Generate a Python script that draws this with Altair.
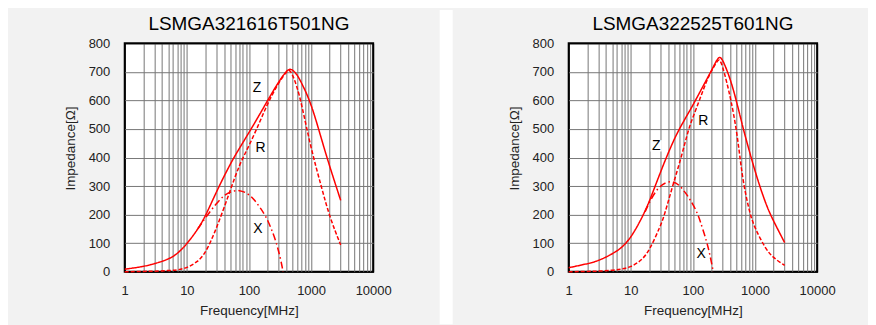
import altair as alt
import pandas as pd

# ---------------- data ----------------
titles = ["LSMGA321616T501NG", "LSMGA322525T601NG"]

# Panel 1
z1_f = [1, 2, 3, 5, 7, 10, 15, 20, 30, 50, 70, 100, 150, 200, 300, 400, 450, 500, 600, 700, 1000, 1500, 2000, 3000]
z1_v = [9, 18, 28, 43, 62, 97, 148, 195, 281, 378, 432, 487, 552, 600, 665, 703, 710, 708, 690, 662, 592, 458, 368, 250]
r1_f = [1, 2, 3, 5, 7, 10, 15, 20, 30, 50, 70, 100, 150, 200, 300, 400, 450, 500, 600, 700, 1000, 1500, 2000, 3000]
r1_v = [0, 1, 2, 4, 6, 13, 35, 65, 150, 285, 375, 440, 525, 590, 662, 700, 708, 692, 645, 590, 430, 290, 190, 94]
x1_f = [15, 20, 30, 40, 50, 70, 100, 122, 150, 189, 230, 273, 320, 355]
x1_v = [150, 190, 240, 268, 280, 288, 272, 252, 226, 193, 150, 106, 50, 0]

# Panel 2
z2_f = [1, 2, 3, 5, 7, 10, 15, 20, 30, 50, 70, 100, 130, 200, 240, 267, 300, 400, 500, 648, 700, 1000, 1500, 2000, 3000]
z2_v = [14, 28, 38, 62, 82, 118, 187, 246, 350, 467, 525, 583, 630, 705, 740, 754, 745, 676, 600, 500, 473, 350, 234, 176, 102]
r2_f = [1, 2, 3, 5, 7, 10, 15, 20, 30, 35, 47, 65, 85, 100, 130, 167, 200, 240, 267, 300, 350, 411, 500, 573, 648, 829, 1000, 1500, 2000, 3000]
r2_v = [0, 1, 2, 5, 9, 16, 40, 75, 160, 200, 300, 400, 500, 540, 606, 670, 705, 733, 748, 720, 665, 600, 502, 400, 310, 200, 152, 77, 48, 22]
x2_f = [17, 20, 29, 46, 60, 75, 89, 115, 130, 167, 190, 213]
x2_v = [210, 245, 305, 320, 305, 278, 255, 212, 180, 106, 55, 0]

# curve labels
lab_text = ["Z", "R", "X"]
lab1_f = [135.5, 153, 139]
lab1_v = [645, 432, 149]
lab2_f = [25.6, 147.5, 135.5]
lab2_v = [441, 529, 63]

x_ticks = [m * 10 ** e for e in range(4) for m in range(1, 10)] + [10000]
x_labels = [1, 10, 100, 1000, 10000]
y_ticks = list(range(0, 801, 100))

# ---------------- helpers ----------------
W, H = 249, 229
FONT = "Liberation Sans"
RED = "#ff0000"
GRID = "#767676"


def series_df(parts):
    rows = []
    for name, fs, vs in parts:
        for f, v in zip(fs, vs):
            rows.append({"f": f, "v": v, "s": name})
    return pd.DataFrame(rows)


x_scale = alt.Scale(type="log", domain=[1, 10000], nice=False)
y_scale = alt.Scale(domain=[0, 800], nice=False)

x_axis = alt.Axis(
    values=x_ticks,
    format="d",
    labelExpr="indexof(%s, datum.value) >= 0 ? datum.label : ''" % str(x_labels),
    labelOverlap=False,
    labelFlush=False,
    ticks=False,
    tickSize=0,
    domain=False,
    grid=True,
    gridColor={"condition": {"test": "datum.value == 1 || datum.value == 10000", "value": "black"}, "value": GRID},
    labelPadding=13,
    title="Frequency[MHz]",
    titlePadding=6,
)
y_axis = alt.Axis(
    values=y_ticks,
    ticks=False,
    tickSize=0,
    domain=False,
    grid=True,
    labelFlush=False,
    gridColor={"condition": {"test": "datum.value == 0 || datum.value == 800", "value": "black"}, "value": GRID},
    labelPadding=15,
    title="Impedance[Ω]",
    titlePadding=11,
    titleY=105,
)

X = alt.X("f:Q", scale=x_scale, axis=x_axis)
Y = alt.Y("v:Q", scale=y_scale, axis=y_axis)


def panel(title, parts, lab_f, lab_v, deco):
    df = series_df(parts)
    lines = alt.Chart(df).mark_line(color=RED, strokeWidth=1.5, interpolate="basis").encode(
        x=X,
        y=Y,
        strokeDash=alt.StrokeDash(
            "s:N",
            scale=alt.Scale(domain=["Z", "R", "X"], range=[[1, 0], [4, 2], [7, 3, 1.5, 3]]),
            legend=None,
        ),
        detail="s:N",
    )
    ldf = pd.DataFrame({"f": lab_f, "v": lab_v, "t": lab_text})
    boxes = alt.Chart(ldf).mark_square(size=130, color="white", opacity=1, filled=True).encode(x=X, y=Y)
    texts = alt.Chart(ldf).mark_text(font=FONT, fontSize=14, color="black").encode(x=X, y=Y, text="t:N")
    ttl = alt.Chart(pd.DataFrame({"t": [title]})).mark_text(
        font=FONT, fontSize=19, color="black", align="center", baseline="alphabetic"
    ).encode(x=alt.value(W / 2), y=alt.value(-13), text="t:N")
    return alt.layer(*deco, lines, boxes, texts, ttl).properties(width=W, height=H)


one = pd.DataFrame({"a": [0]})


def deco_rect(x1, x2, y1, y2, fill):
    return alt.Chart(one).mark_rect(fill=fill).encode(
        x=alt.value(x1), x2=alt.value(x2), y=alt.value(y1), y2=alt.value(y2)
    )


deco1 = [
    deco_rect(-115.3, -110, -33.3, 281.7, "#f2f2f2"),   # left page edge (bounds)
    deco_rect(315.7, 328.7, -33.3, 281.7, "white"),     # white gap between panels
]
deco2 = [
    deco_rect(294, 299, -33.3, 281.7, "#f2f2f2"),       # right page edge (bounds)
]

p1 = panel(titles[0], [("Z", z1_f, z1_v), ("R", r1_f, r1_v), ("X", x1_f, x1_v)], lab1_f, lab1_v, deco1)
p2 = panel(titles[1], [("Z", z2_f, z2_v), ("R", r2_f, r2_v), ("X", x2_f, x2_v)], lab2_f, lab2_v, deco2)

chart = (
    alt.hconcat(p1, p2, spacing=196, bounds="flush")
    .properties(padding=0, background="#f2f2f2")
    .configure_view(stroke="black", strokeWidth=2, fill="white")
    .configure_axis(
        labelFont=FONT, labelFontSize=13, labelColor="#222",
        titleFont=FONT, titleFontSize=13.5, titleFontWeight="normal", titleColor="#222",
    )
)

chart.save("out.html", embed_options={"renderer": "svg", "actions": False})
